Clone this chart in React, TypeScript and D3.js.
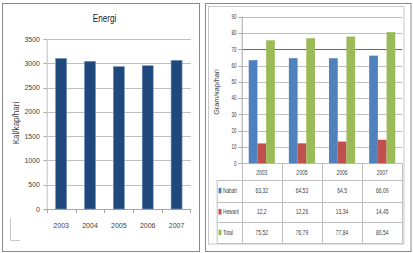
import React from "react";
import * as d3 from "d3";

const energyYears = ["2003", "2004", "2005", "2006", "2007"];
const energyValues = [3100, 3040, 2930, 2950, 3060];
const energyTicks = [0, 500, 1000, 1500, 2000, 2500, 3000, 3500];

const proteinYears = ["2003", "2005", "2006", "2007"];
const seriesNames = ["Nabati", "Hewani", "Total"];
const nabati = [63.32, 64.53, 64.5, 66.09];
const hewani = [12.2, 12.26, 13.34, 14.45];
const total = [75.52, 76.79, 77.84, 80.54];
const proteinTicks = [0, 10, 20, 30, 40, 50, 60, 70, 80, 90];
const seriesColors = ["#4F81BD", "#C0504D", "#9BBB59"];

const fmt = (v: number) => String(v).replace(".", ",");
const FONT = "'Liberation Sans', Arial, sans-serif";

function T({ x, y, children, size = 8, anchor = "middle", sx = 0.8, rotate = 0, fill = "#404040" }: any) {
  return (
    <text
      transform={`translate(${x},${y}) rotate(${rotate}) scale(${sx},1)`}
      fontSize={size}
      textAnchor={anchor}
      fontFamily={FONT}
      fill={fill}
    >
      {children}
    </text>
  );
}

export default function App() {
  // Left chart
  const lx = d3.scaleBand().domain(energyYears).range([46.7, 191]);
  const ly = d3.scaleLinear().domain([0, 3500]).range([209, 39]);
  const barW = lx.bandwidth() * 0.38;

  // Right chart
  const rx = d3.scaleBand().domain(proteinYears).range([241.7, 402.3]);
  const ry = d3.scaleLinear().domain([0, 90]).range([163.3, 16.7]);
  const series = [nabati, hewani, total];
  const groupW = rx.bandwidth() * 0.65;
  const sub = d3.scaleBand().domain(seriesNames).range([0, groupW]);
  const rowY = [180, 201.7, 222.3, 243];
  const tableLeft = 216.7;
  const grid = "#bfbfbf";

  return (
    <svg width={413} height={253} style={{ position: "absolute", left: 0, top: 0 }}>
      <rect x={0} y={0} width={413} height={253} fill="#fff" />
      {/* Left panel */}
      <rect x={2.5} y={3.5} width={197} height={248} fill="none" stroke="#8a8a8a" />
      <line x1={10.5} x2={10.5} y1={218} y2={240.5} stroke="#c8c8c8" />
      <line x1={10.5} x2={20} y1={240.5} y2={240.5} stroke="#c8c8c8" />
      <T x={104.5} y={21.5} size={10.5} sx={0.78} fill="#202020">Energi</T>
      {energyTicks.map((t) => (
        <g key={t}>
          <line x1={46.7} x2={191} y1={Math.round(ly(t)) + 0.5} y2={Math.round(ly(t)) + 0.5} stroke={t === 0 ? "#a6a6a6" : grid} />
          <line x1={43.5} x2={46.7} y1={Math.round(ly(t)) + 0.5} y2={Math.round(ly(t)) + 0.5} stroke="#a6a6a6" />
          <T x={40} y={ly(t) + 2.6} size={7.6} anchor="end" sx={0.92}>{t}</T>
        </g>
      ))}
      <line x1={47.2} x2={47.2} y1={39} y2={209} stroke="#bfbfbf" />
      {energyYears.map((y) => (
        <line key={"tk" + y} x1={Math.round(lx(y)!) + 0.5} x2={Math.round(lx(y)!) + 0.5} y1={209} y2={213} stroke="#a6a6a6" />
      ))}
      <line x1={190.5} x2={190.5} y1={209} y2={213} stroke="#a6a6a6" />
      {energyYears.map((y, i) => (
        <g key={"b" + y}>
          <rect
            x={lx(y)! + (lx.bandwidth() - barW) / 2}
            y={ly(energyValues[i])}
            width={barW}
            height={ly(0) - ly(energyValues[i])}
            fill="#1F497D"
            stroke="#6f8fb8"
            strokeWidth={0.6}
          />
          <T x={lx(y)! + lx.bandwidth() / 2} y={228} size={7.6} sx={0.92}>{y}</T>
        </g>
      ))}
      <T x={19} y={123} size={9.5} rotate={-90} sx={0.85}>Kal/kap/hari</T>

      {/* Right panel */}
      <rect x={205.5} y={3.5} width={205.5} height={248} fill="none" stroke="#8a8a8a" />
      <rect x={208.5} y={6.5} width={195.5} height={237.5} fill="none" stroke="#c8c8c8" />
      {proteinTicks.map((t) => (
        <g key={"r" + t}>
          <line x1={241.7} x2={402.3} y1={Math.round(ry(t)) + 0.5} y2={Math.round(ry(t)) + 0.5} stroke={t === 70 ? "#6a6a6a" : grid} />
          <line x1={238.5} x2={241.7} y1={Math.round(ry(t)) + 0.5} y2={Math.round(ry(t)) + 0.5} stroke="#a6a6a6" />
          <T x={236.5} y={ry(t) + 2.3} size={6.5} anchor="end" sx={0.7}>{t}</T>
        </g>
      ))}
      <line x1={242.2} x2={242.2} y1={16.7} y2={163.3} stroke="#a6a6a6" />
      {proteinYears.map((yr, i) => (
        <g key={"g" + yr}>
          {series.map((s, j) => (
            <rect
              key={j}
              x={rx(yr)! + (rx.bandwidth() - groupW) / 2 + sub(seriesNames[j])!}
              y={ry(s[i])}
              width={sub.bandwidth()}
              height={ry(0) - ry(s[i])}
              fill={seriesColors[j]}
            />
          ))}
        </g>
      ))}
      {/* table */}
      {rowY.map((y, k) => (
        <line key={"h" + k} x1={tableLeft} x2={402.3} y1={Math.round(y) + 0.5} y2={Math.round(y) + 0.5} stroke={grid} />
      ))}
      <line x1={tableLeft + 0.5} x2={tableLeft + 0.5} y1={180} y2={243.5} stroke={grid} />
      {[...proteinYears.map((y) => rx(y)!), 402.3].map((x, k) => (
        <line key={"v" + k} x1={Math.round(x) + 0.5} x2={Math.round(x) + 0.5} y1={163.3} y2={243.5} stroke={grid} />
      ))}
      {proteinYears.map((yr) => (
        <T key={"hd" + yr} x={rx(yr)! + rx.bandwidth() / 2} y={174.5} size={7} sx={0.72}>{yr}</T>
      ))}
      {seriesNames.map((name, j) => {
        const cy = (rowY[j] + rowY[j + 1]) / 2;
        return (
          <g key={"row" + name}>
            <rect x={218.5} y={cy - 3} width={3} height={5.5} fill={seriesColors[j]} />
            <T x={223} y={cy + 2.3} size={7} anchor="start" sx={0.68}>{name}</T>
            {proteinYears.map((yr, i) => (
              <T key={yr} x={rx(yr)! + rx.bandwidth() / 2} y={cy + 2.3} size={7} sx={0.72}>{fmt(series[j][i])}</T>
            ))}
          </g>
        );
      })}
      <T x={218.5} y={92} size={8} rotate={-90} sx={0.9}>Gram/kap/hari</T>
    </svg>
  );
}
